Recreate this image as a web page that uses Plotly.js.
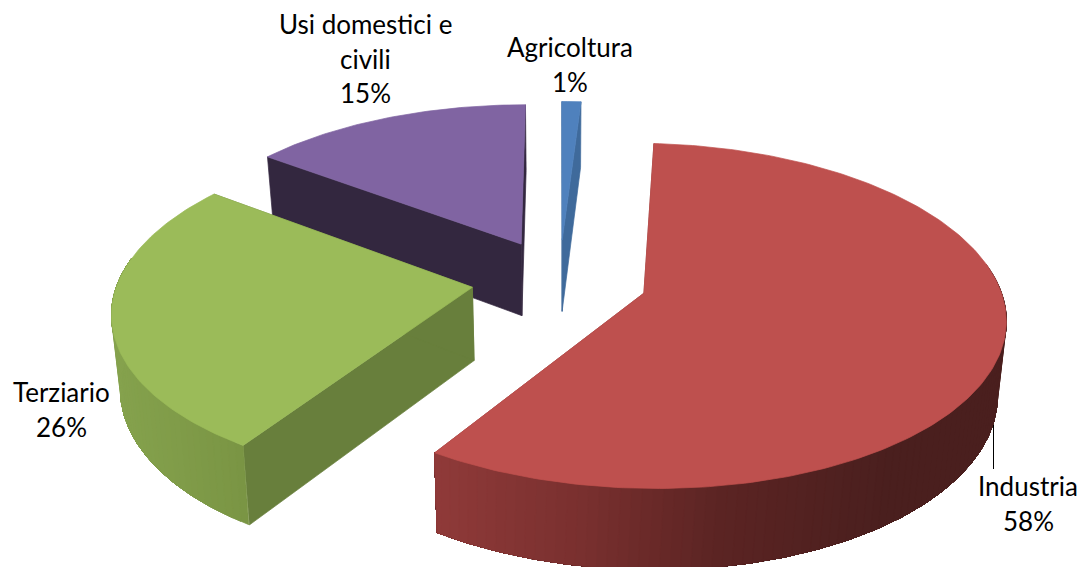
<!DOCTYPE html>
<html><head><meta charset="utf-8">
<script src="https://cdn.plot.ly/plotly-3.0.1.min.js"></script>
<style>html,body{margin:0;padding:0;background:#fff}#c{width:1083px;height:567px}text{font-variant-ligatures:none}</style>
</head><body><div id="c"></div>
<script>
// Data
const categories = ["Agricoltura", "Industria", "Terziario", "Usi domestici e\ncivili"];
const values = [1, 58.2, 26, 14.8];

// Styles
const topColors = ["#4F81BD", "#BE504E", "#9BBB59", "#8064A2"];
const cutColors = ["#3F6A9B", "#8E3A39", "#687F3C", "#33273F"];
const rimStops = [
  [[0, "#3F6A9B"], [1, "#3F6A9B"]],
  [[0, "#8F3A39"], [0.25, "#7A302F"], [0.5, "#5B2423"], [0.8, "#4A1F1E"], [1, "#4A1F1E"]],
  [[0, "#85A24D"], [1, "#7A9544"]],
  [[0, "#33273F"], [1, "#33273F"]]
];
const labelX = [570, 1028, 61, 365];
const labelY = [48, 487, 393, 25];
const labelLineStep = 34.5;

// Pie geometry and camera
const radius = 354, explode = 88, depth = 73, startAngle = 0;
const vanishX = 559.5, horizonY = -996, camH = 1276, camD = 2718, nadirShrink = 0.98;

function project(X, Y, bottom) {
  const s = camD / (camD + Y);
  const shrink = bottom ? nadirShrink : 1;
  return [vanishX + X * s * shrink, horizonY + camH * s + (bottom ? depth * Math.pow(s, 0.7) : 0)];
}
function hexToRgb(h) { return [1, 3, 5].map(i => parseInt(h.substr(i, 2), 16)); }
function rimColor(stops, t) {
  t = Math.max(0, Math.min(1, t));
  for (let i = 1; i < stops.length; i++) {
    if (t <= stops[i][0]) {
      const f = (t - stops[i - 1][0]) / (stops[i][0] - stops[i - 1][0]);
      const a = hexToRgb(stops[i - 1][1]), b = hexToRgb(stops[i][1]);
      return "rgb(" + a.map((v, k) => Math.round(v + (b[k] - v) * f)).join(",") + ")";
    }
  }
  return stops[stops.length - 1][1];
}
function poly(points, color) {
  return {
    type: "scatter", mode: "lines", fill: "toself", fillcolor: color,
    x: points.map(p => p[0]), y: points.map(p => p[1]),
    line: { color: color, width: 0.7 }, hoverinfo: "skip", showlegend: false
  };
}

const total = values.reduce((a, b) => a + b, 0);
let cursor = startAngle;
const slices = values.map((v, i) => {
  const a0 = cursor, a1 = cursor + v / total * 360;
  cursor = a1;
  const mid = (a0 + a1) / 2 * Math.PI / 180;
  return { i, a0, a1, ox: explode * Math.sin(mid), oy: explode * Math.cos(mid) };
});

function rimPoint(sl, deg, bottom) {
  const r = deg * Math.PI / 180;
  return project(sl.ox + radius * Math.sin(r), sl.oy + radius * Math.cos(r), bottom);
}
function sliceTraces(sl) {
  const out = [];
  const apexT = project(sl.ox, sl.oy, false), apexB = project(sl.ox, sl.oy, true);
  // radial cut faces
  out.push(poly([apexT, rimPoint(sl, sl.a0, false), rimPoint(sl, sl.a0, true), apexB, apexT], cutColors[sl.i]));
  out.push(poly([apexT, rimPoint(sl, sl.a1, false), rimPoint(sl, sl.a1, true), apexB, apexT], cutColors[sl.i]));
  // outer wall: painted from the bright end, each band reaching under the next to avoid seams
  const from = Math.max(sl.a0, 80), to = Math.min(sl.a1, 280);
  if (to > from) {
    const xs = [];
    for (let a = from; a <= to; a += 1) xs.push(rimPoint(sl, a, true)[0]);
    const xMin = Math.min(...xs), xMax = Math.max(...xs);
    const stepDeg = 1.5;
    for (let a = from; a < to; a += stepDeg) {
      const pts = [];
      for (let b = a; b < to; b += 0.75) pts.push(rimPoint(sl, b, false));
      pts.push(rimPoint(sl, to, false));
      pts.push(rimPoint(sl, to, true));
      for (let b = to - 0.75; b >= a; b -= 0.75) pts.push(rimPoint(sl, b, true));
      pts.push(pts[0]);
      const x = rimPoint(sl, a + stepDeg / 2, true)[0];
      const t = (x - xMin) / Math.max(1, xMax - xMin);
      out.push(poly(pts, rimColor(rimStops[sl.i], t)));
    }
  }
  // top face
  const topPts = [apexT];
  for (let a = sl.a0; a < sl.a1; a += 1) topPts.push(rimPoint(sl, a, false));
  topPts.push(rimPoint(sl, sl.a1, false), apexT);
  out.push(poly(topPts, topColors[sl.i]));
  return out;
}

// painter's order: far slices first
const order = [3, 0, 2, 1];
const traces = [];
order.forEach(k => sliceTraces(slices[k]).forEach(t => traces.push(t)));

const annotations = [];
categories.forEach((c, i) => {
  const lines = c.split("\n").concat([Math.round(values[i]) + "%"]);
  lines.forEach((ln, j) => annotations.push({
    x: labelX[i], y: labelY[i] - 1 + j * labelLineStep, xref: "x", yref: "y",
    text: ln, showarrow: false, xanchor: "center", yanchor: "middle",
    font: { family: "Lato, Carlito, sans-serif", size: 26, color: "#000" }
  }));
});

const layout = {
  width: 1083, height: 567, margin: { l: 0, r: 0, t: 0, b: 0 },
  paper_bgcolor: "#fff", plot_bgcolor: "#fff", showlegend: false,
  xaxis: { range: [0, 1083], visible: false, fixedrange: true },
  yaxis: { range: [567, 0], visible: false, fixedrange: true },
  annotations,
  shapes: [{ type: "line", xref: "x", yref: "y", x0: 993.5, x1: 993.5, y0: 425, y1: 469, line: { color: "#000", width: 1 } }]
};
Plotly.newPlot("c", traces, layout, { displayModeBar: false, staticPlot: true });
</script></body></html>
